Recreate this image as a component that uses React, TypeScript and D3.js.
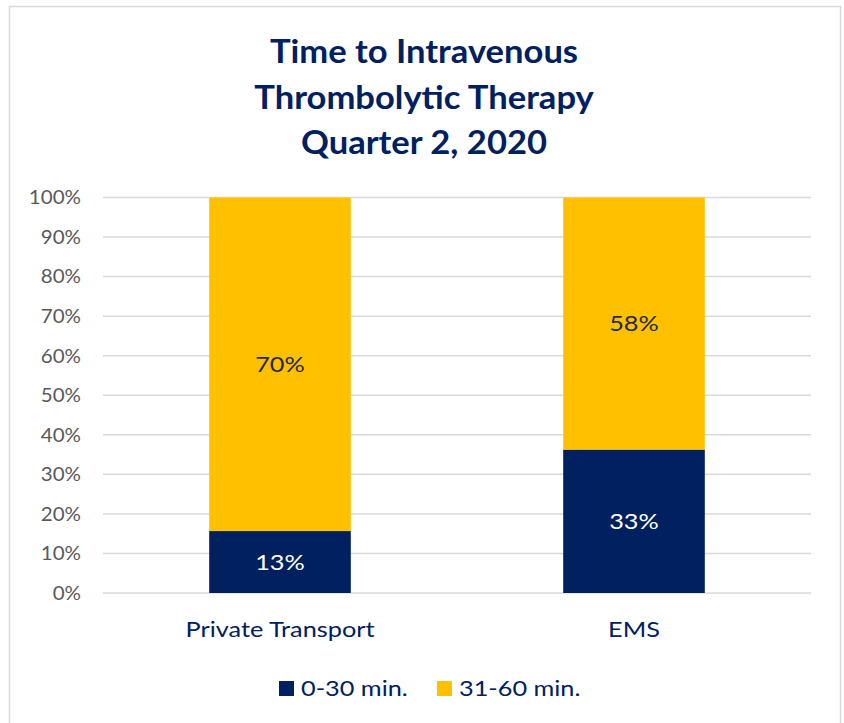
import React from "react";
import * as d3 from "d3";

const categories = ["Private Transport", "EMS"];
const seriesNames = ["0-30 min.", "31-60 min."];
const values030 = [13, 33];
const values3160 = [70, 58];
const yTicks = [0, 0.1, 0.2, 0.3, 0.4, 0.5, 0.6, 0.7, 0.8, 0.9, 1.0];
const titleLines = ["Time to Intravenous", "Thrombolytic Therapy", "Quarter 2, 2020"];
const colors = ["#002060", "#FFC000"];

const W = 844;
const H = 723;
const FONT = "Lato, 'Open Sans', sans-serif";
const SX = 1.15;

function T(props: {
  x: number;
  y: number;
  sx?: number;
  anchor?: string;
  size: number;
  fill: string;
  weight?: number;
  dy?: string;
  children: React.ReactNode;
}) {
  const { x, y, sx = SX, anchor = "start", size, fill, weight = 400, dy, children } = props;
  return (
    <text
      transform={`translate(${x},${y}) scale(${sx},1)`}
      dy={dy}
      textAnchor={anchor}
      fontFamily={FONT}
      fontSize={size}
      fontWeight={weight}
      fill={fill}
    >
      {children}
    </text>
  );
}

export default function App() {
  const plotLeft = 103;
  const plotRight = 811;
  const plotTop = 197.5;
  const plotBottom = 593;

  const x = d3
    .scaleBand<string>()
    .domain(categories)
    .range([plotLeft, plotRight])
    .paddingInner(0.6)
    .paddingOuter(0.3);
  const y = d3.scaleLinear().domain([0, 1]).range([plotBottom, plotTop]);

  const rows = categories.map((c, i) => {
    const total = values030[i] + values3160[i];
    return { cat: c, a: values030[i], b: values3160[i], total };
  });
  const stack = d3
    .stack<any>()
    .keys(["a", "b"])
    .value((d: any, k: string) => d[k] / d.total);
  const series = stack(rows);
  const fmt = d3.format(".0%");

  return (
    <div style={{ position: "absolute", left: 0, top: 0 }}>
      <svg width={W} height={H} style={{ display: "block", background: "#fff" }}>
        <rect x={9.5} y={6.5} width={831} height={730} fill="#fff" stroke="#d9d9d9" strokeWidth={1.5} />
        {titleLines.map((t, i) => (
          <T key={i} x={424} y={63 + i * 45.5} sx={1.08} anchor="middle" size={32} weight={700} fill="#002060">
            {t}
          </T>
        ))}
        {yTicks.map((t) => (
          <g key={t}>
            <line x1={plotLeft} x2={plotRight} y1={y(t)} y2={y(t)} stroke="#d9d9d9" strokeWidth={1.5} />
            <T x={81} y={y(t)} dy="0.36em" anchor="end" size={19} sx={1.08} fill="#595959">
              {fmt(t)}
            </T>
          </g>
        ))}
        {series.map((s, si) =>
          s.map((d, i) => (
            <rect
              key={`${si}-${i}`}
              x={x(categories[i])!}
              y={y(d[1])}
              width={x.bandwidth()}
              height={y(d[0]) - y(d[1])}
              fill={colors[si]}
            />
          ))
        )}
        {series.map((s, si) =>
          s.map((d, i) => (
            <T
              key={`l-${si}-${i}`}
              x={x(categories[i])! + x.bandwidth() / 2}
              y={(y(d[0]) + y(d[1])) / 2}
              dy="0.36em"
              anchor="middle"
              size={22}
              fill={si === 0 ? "#ffffff" : "#1f2a55"}
            >
              {(si === 0 ? values030[i] : values3160[i]) + "%"}
            </T>
          ))
        )}
        {categories.map((c) => (
          <T key={c} x={x(c)! + x.bandwidth() / 2} y={637} anchor="middle" size={22} fill="#002060">
            {c}
          </T>
        ))}
        {seriesNames.map((n, i) => {
          const lx = i === 0 ? 279 : 437;
          return (
            <g key={n}>
              <rect x={lx} y={681} width={15} height={15} fill={colors[i]} />
              <T x={lx + 22} y={696} size={22} fill="#002060">
                {n}
              </T>
            </g>
          );
        })}
      </svg>
    </div>
  );
}
